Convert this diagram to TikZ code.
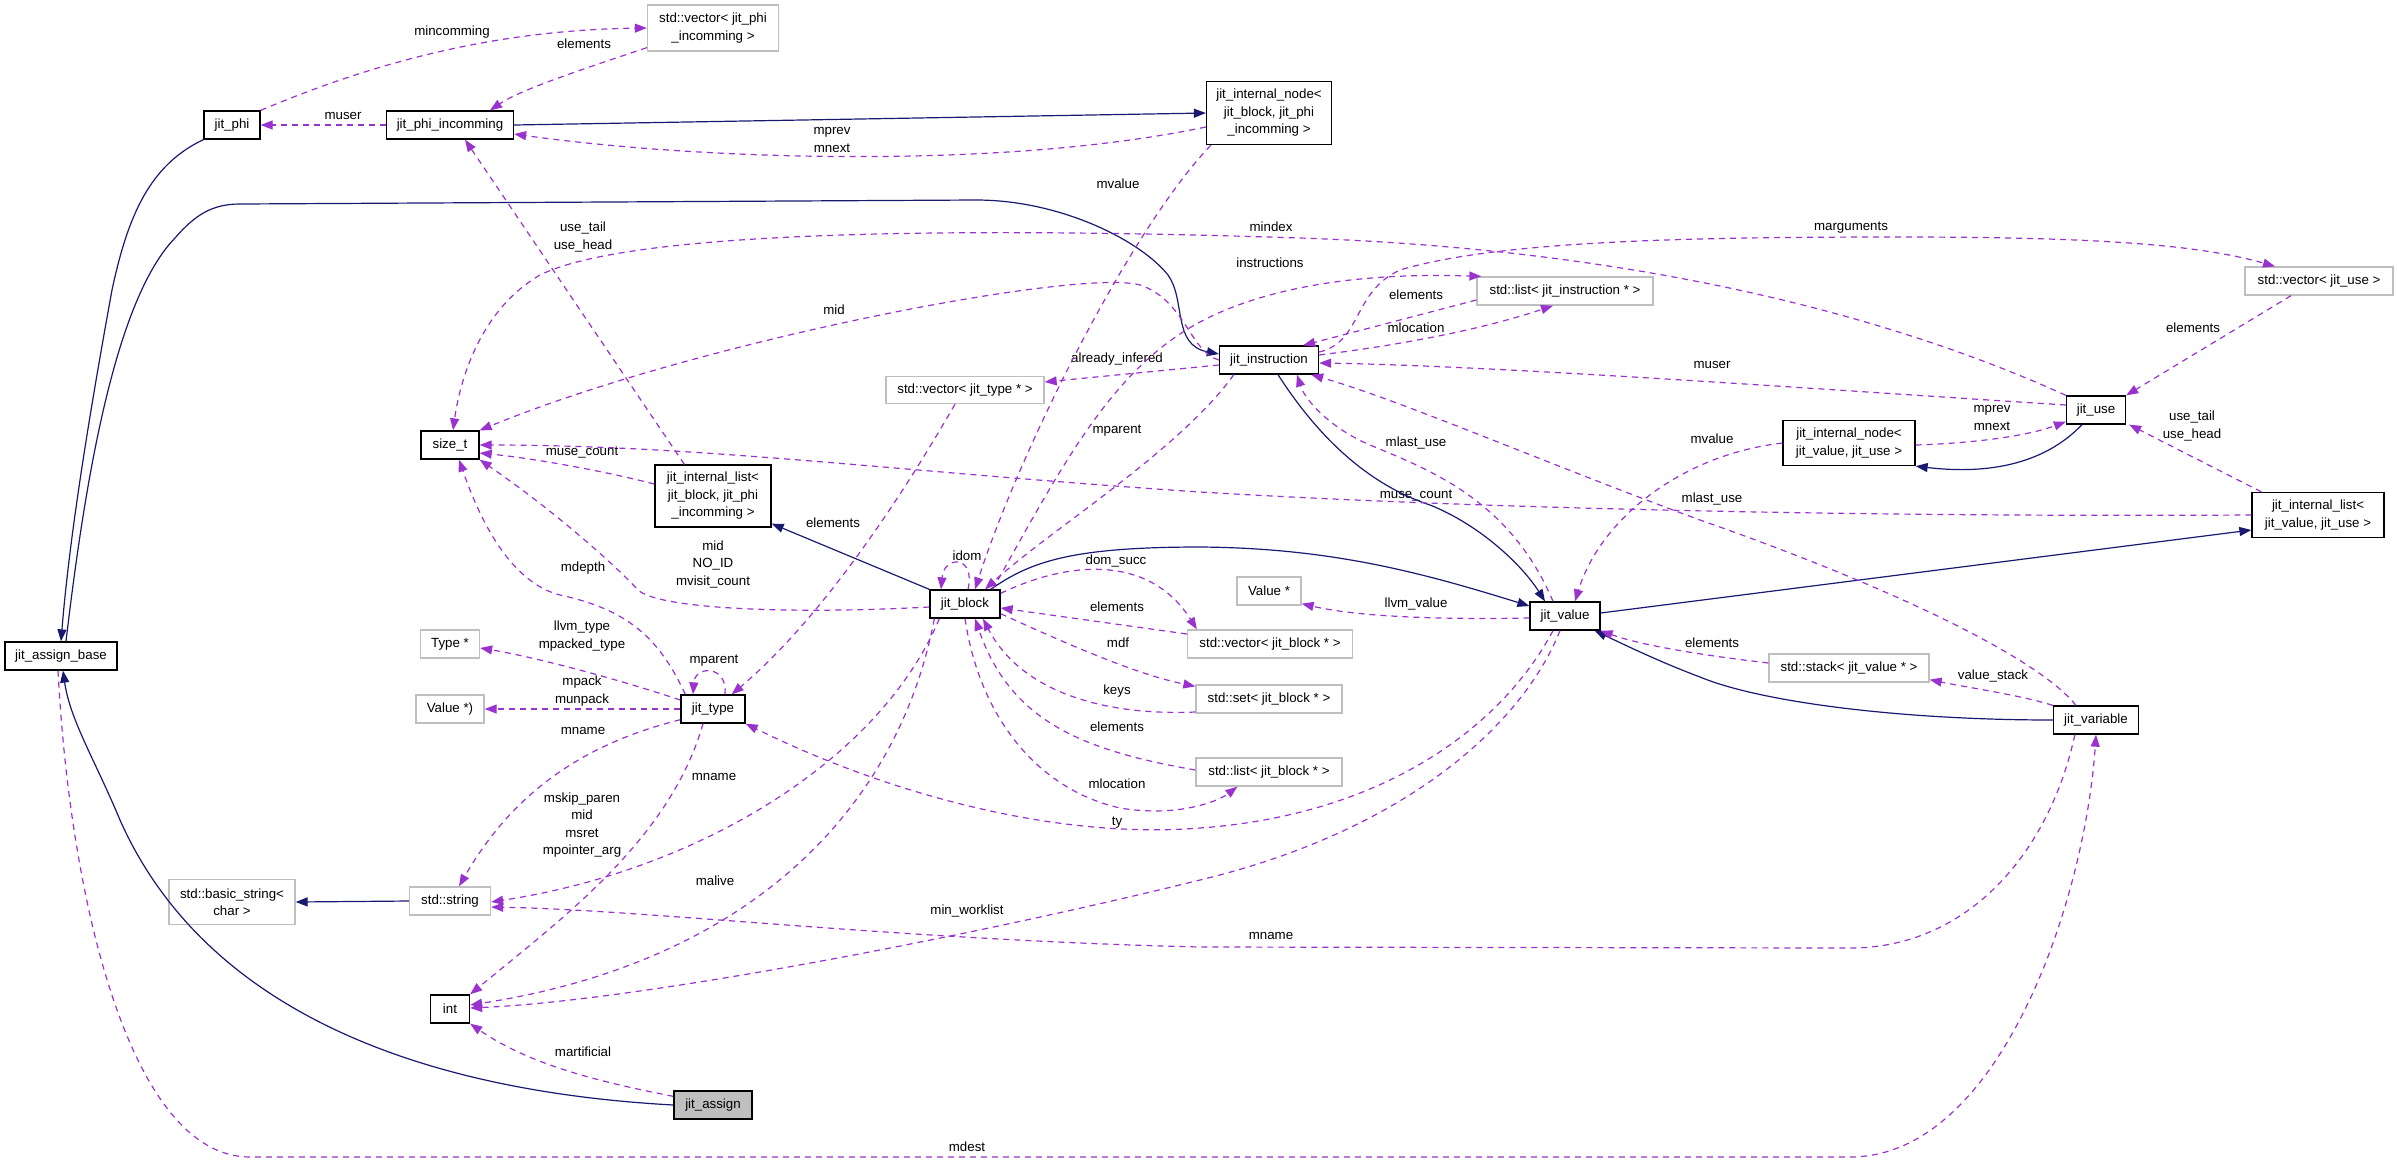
\documentclass[tikz,border=0pt]{standalone}
\usepackage{fontspec}
\setmainfont{Liberation Sans}
\usetikzlibrary{arrows.meta,calc}
\definecolor{inhblue}{HTML}{191970}
\definecolor{usepurple}{HTML}{9A32CD}
\definecolor{extgray}{HTML}{BFBFBF}
\definecolor{selgray}{HTML}{BFBFBF}
\newcommand{\lbf}{\fontsize{13.3pt}{17.5pt}\selectfont}
\begin{document}
\begin{tikzpicture}[x=1pt,y=-1pt,
  cls/.style={draw=black, line width=1.3pt, fill=white, font=\lbf, inner sep=0pt, minimum height=28pt, align=center},
  ext/.style={cls, draw=extgray},
  inh/.style={draw=inhblue, line width=1.2pt, -{Triangle[length=12pt,width=9pt]}},
  usedge/.style={draw=usepurple, line width=1.2pt, dash pattern=on 6pt off 5pt, -{Triangle[length=12pt,width=9pt]}},
  lbl/.style={font=\lbf, align=center, inner sep=0pt}]
\useasboundingbox (0,0) rectangle (2397,1163);

% nodes
\node[cls, minimum width=56pt] (phi) at (232,125) {jit\_phi};
\node[cls, minimum width=127pt] (phiinc) at (450,125) {jit\_phi\_incomming};
\node[ext, minimum width=131pt, minimum height=46pt] (vecphi) at (713,28) {std::vector< jit\_phi\\\_incomming >};
\node[cls, minimum width=125pt, minimum height=63pt] (nodebp) at (1269,113) {jit\_internal\_node<\\jit\_block, jit\_phi\\\_incomming >};
\node[cls, minimum width=99pt] (instr) at (1269,360) {jit\_instruction};
\node[ext, minimum width=176pt] (listinstr) at (1565,291) {std::list< jit\_instruction * >};
\node[ext, minimum width=148pt] (vecuse) at (2319,281) {std::vector< jit\_use >};
\node[cls, minimum width=58pt] (sizet) at (450,445) {size\_t};
\node[ext, minimum width=158pt, minimum height=27pt] (vectype) at (965,390) {std::vector< jit\_type * >};
\node[cls, minimum width=116pt, minimum height=62pt] (listbp) at (713,496) {jit\_internal\_list<\\jit\_block, jit\_phi\\\_incomming >};
\node[cls, minimum width=70pt] (block) at (965,604) {jit\_block};
\node[cls, minimum width=112pt] (base) at (61,656) {jit\_assign\_base};
\node[ext, minimum width=59pt] (typeptr) at (450,644) {Type *};
\node[ext, minimum width=68pt] (valuep) at (450,709) {Value *)};
\node[cls, minimum width=64pt] (jtype) at (713,709) {jit\_type};
\node[ext, minimum width=64pt] (valueptr) at (1269,591) {Value *};
\node[cls, minimum width=70pt] (value) at (1565,616) {jit\_value};
\node[ext, minimum width=165pt] (vecblock) at (1270,644) {std::vector< jit\_block * >};
\node[ext, minimum width=146pt] (setblock) at (1269,699) {std::set< jit\_block * >};
\node[ext, minimum width=146pt] (listblock) at (1269,772) {std::list< jit\_block * >};
\node[ext, minimum width=160pt] (stack) at (1849,668) {std::stack< jit\_value * >};
\node[cls, minimum width=132pt, minimum height=45pt] (nodevu) at (1849,443) {jit\_internal\_node<\\jit\_value, jit\_use >};
\node[cls, minimum width=59pt] (use) at (2096,410) {jit\_use};
\node[cls, minimum width=132pt, minimum height=45pt] (listvu) at (2318,515) {jit\_internal\_list<\\jit\_value, jit\_use >};
\node[cls, minimum width=85pt] (var) at (2096,720) {jit\_variable};
\node[ext, minimum width=126pt, minimum height=45pt] (bstr) at (232,902) {std::basic\_string<\\char >};
\node[ext, minimum width=81pt] (str) at (450,901) {std::string};
\node[cls, minimum width=39pt] (int) at (450,1009) {int};
\node[cls, minimum width=78pt, fill=selgray] (assign) at (713,1105) {jit\_assign};

% labels
\node[lbl] (l1) at (452,32) {mincomming};
\node[lbl] (l2) at (584,44) {elements};
\node[lbl] (l3) at (343,116) {muser};
\node[lbl] (l4) at (832,140) {mprev\\mnext};
\node[lbl] (l5) at (1118,184) {mvalue};
\node[lbl] (l6) at (583,237) {use\_tail\\use\_head};
\node[lbl] (l7) at (1271,227) {mindex};
\node[lbl] (l8) at (1270,263) {instructions};
\node[lbl] (l9) at (834,310) {mid};
\node[lbl] (l10) at (1117,359) {already\_infered};
\node[lbl] (l11) at (1416,295) {elements};
\node[lbl] (l12) at (1416,328) {mlocation};
\node[lbl] (l13) at (1851,228) {marguments};
\node[lbl] (l14) at (1712,365) {muser};
\node[lbl] (l15) at (2193,328) {elements};
\node[lbl] (l16) at (1992,418) {mprev\\mnext};
\node[lbl] (l17) at (2192,426) {use\_tail\\use\_head};
\node[lbl] (l18) at (582,453) {muse\_count};
\node[lbl] (l19) at (1416,496) {muse\_count};
\node[lbl] (l20) at (713,564) {mid\\NO\_ID\\mvisit\_count};
\node[lbl] (l21) at (583,568) {mdepth};
\node[lbl] (l22) at (833,523) {elements};
\node[lbl] (l23) at (967,556) {idom};
\node[lbl] (l24) at (1117,431) {mparent};
\node[lbl] (l25) at (1116,561) {dom\_succ};
\node[lbl] (l26) at (1117,607) {elements};
\node[lbl] (l27) at (1118,643) {mdf};
\node[lbl] (l28) at (1117,691) {keys};
\node[lbl] (l29) at (1117,727) {elements};
\node[lbl] (l30) at (1117,784) {mlocation};
\node[lbl] (l31) at (714,661) {mparent};
\node[lbl] (l32) at (582,636) {llvm\_type\\mpacked\_type};
\node[lbl] (l33) at (582,691) {mpack\\munpack};
\node[lbl] (l34) at (583,731) {mname};
\node[lbl] (l35) at (582,825) {mskip\_paren\\mid\\msret\\mpointer\_arg};
\node[lbl] (l36) at (714,777) {mname};
\node[lbl] (l37) at (1271,936) {mname};
\node[lbl] (l38) at (715,881) {malive};
\node[lbl] (l39) at (967,911) {min\_worklist};
\node[lbl] (l40) at (583,1052) {martificial};
\node[lbl] (l41) at (967,1147) {mdest};
\node[lbl] (l42) at (1712,499) {mlast\_use};
\node[lbl] (l43) at (1416,443) {mlast\_use};
\node[lbl] (l44) at (1712,439) {mvalue};
\node[lbl] (l45) at (1416,604) {llvm\_value};
\node[lbl] (l46) at (1712,643) {elements};
\node[lbl] (l47) at (1993,676) {value\_stack};
\node[lbl] (l48) at (1117,823) {ty};

% inheritance edges
\draw[inh] (phi.south west) .. controls (150,165) and (128,215) .. (112,290) .. controls (92,400) and (70,530) .. (base.north);
\draw[inh] ($(base.north)+(5,0)$) .. controls (85,480) and (115,300) .. (175,238) .. controls (195,215) and (212,204) .. (240,204) -- (976,200) .. controls (1060,200) and (1140,240) .. (1168,275) .. controls (1186,300) and (1172,345) .. ($(instr.west)+(0,-6)$);
\draw[inh] (phiinc.east) -- (nodebp.west);
\draw[inh] (block.north west) -- ($(listbp.south east)+(0,-4)$);
\draw[inh] ($(block.north east)+(-10,0)$) .. controls (1030,562) and (1070,547) .. (1200,547) .. controls (1330,548) and (1420,572) .. ($(value.west)+(0,-10)$);
\draw[inh] ($(instr.south)+(9,0)$) .. controls (1320,440) and (1370,485) .. (1430,505) .. controls (1480,525) and (1522,565) .. ($(value.north)+(-20,0)$);
\draw[inh] ($(value.east)+(0,-3)$) -- ($(listvu.west)+(0,15)$);
\draw[inh] (var.west) .. controls (1900,720) and (1760,702) .. (1700,677) .. controls (1660,662) and (1625,645) .. ($(value.south east)+(-6,0)$);
\draw[inh] ($(use.south)+(-14,0)$) .. controls (2050,458) and (2000,476) .. (nodevu.south east);
\draw[inh] (str.west) -- (bstr.east);
\draw[inh] (assign.west) .. controls (400,1090) and (200,1000) .. (120,820) .. controls (95,760) and (70,720) .. ($(base.south)+(2,0)$);

% usage edges
\draw[usedge] (phi.north east) .. controls (380,60) and (500,30) .. (vecphi.west);
\draw[usedge] ($(vecphi.south west)+(0,-4)$) .. controls (580,70) and (520,90) .. ($(phiinc.north)+(40,0)$);
\draw[usedge] (phiinc.west) -- (phi.east);
\draw[usedge] ($(nodebp.west)+(0,14)$) .. controls (1000,170) and (700,160) .. ($(phiinc.east)+(0,9)$);
\draw[usedge] ($(nodebp.south west)+(5,0)$) .. controls (1130,230) and (1020,450) .. ($(block.north)+(10,0)$);
\draw[usedge] ($(listbp.north west)+(30,0)$) -- ($(phiinc.south)+(15,0)$);
\draw[usedge] (use.north west) .. controls (1900,320) and (1650,250) .. (1300,238) .. controls (900,225) and (620,235) .. (540,275) .. controls (480,310) and (460,380) .. ($(sizet.north)+(3,0)$);
\draw[usedge] ($(block.north east)+(-8,0)$) .. controls (1060,470) and (1110,370) .. (1200,322) .. controls (1260,290) and (1350,272) .. ($(listinstr.north west)+(5,0)$);
\draw[usedge] ($(instr.west)+(0,5)$) -- ($(vectype.east)+(0,-8)$);
\draw[usedge] (instr.west) .. controls (1190,352) and (1185,300) .. (1140,285) .. controls (1080,268) and (700,340) .. (sizet.north east);
\draw[usedge] ($(listinstr.west)+(0,9)$) -- ($(instr.north east)+(-16,0)$);
\draw[usedge] ($(instr.east)+(0,-5)$) .. controls (1400,345) and (1480,330) .. ($(listinstr.south)+(-12,0)$);
\draw[usedge] ($(instr.east)+(0,-8)$) .. controls (1362,342) and (1352,292) .. (1400,270) .. controls (1500,240) and (1700,237) .. (1900,237) .. controls (2100,237) and (2200,245) .. ($(vecuse.north)+(-44,0)$);
\draw[usedge] ($(use.west)+(0,-5)$) .. controls (1800,388) and (1500,366) .. ($(instr.east)+(0,3)$);
\draw[usedge] ($(vecuse.south)+(-28,0)$) -- (use.north east);
\draw[usedge] ($(nodevu.east)+(0,2)$) .. controls (1980,443) and (2030,435) .. ($(use.south west)+(0,-3)$);
\draw[usedge] ($(listvu.north west)+(10,0)$) -- ($(use.south east)+(3,0)$);
\draw[usedge] ($(listbp.west)+(0,-12)$) .. controls (600,470) and (530,458) .. ($(sizet.east)+(0,8)$);
\draw[usedge] (listvu.west) .. controls (1900,517) and (1500,510) .. (1200,492) .. controls (900,472) and (700,445) .. (sizet.east);
\draw[usedge] ($(block.west)+(0,3)$) .. controls (800,614) and (660,610) .. (638,590) .. controls (620,570) and (560,515) .. (sizet.south east);
\draw[usedge] ($(jtype.north west)+(5,0)$) .. controls (660,640) and (630,610) .. (560,595) .. controls (510,582) and (480,520) .. ($(sizet.south)+(9,0)$);
\draw[usedge] ($(vectype.south)+(-10,0)$) .. controls (900,500) and (820,620) .. ($(jtype.north east)+(-14,0)$);
\draw[usedge] ($(block.north)+(3,0)$) .. controls (976,555) and (944,555) .. ($(block.north)+(-24,0)$);
\draw[usedge] ($(instr.south west)+(15,0)$) .. controls (1180,450) and (1050,530) .. ($(block.north)+(20,0)$);
\draw[usedge] ($(block.north east)+(0,4)$) .. controls (1070,560) and (1150,555) .. ($(vecblock.north west)+(10,0)$);
\draw[usedge] ($(vecblock.west)+(0,-10)$) -- ($(block.east)+(0,4)$);
\draw[usedge] ($(block.south east)+(0,-5)$) .. controls (1080,650) and (1140,675) .. ($(setblock.north west)+(0,2)$);
\draw[usedge] ($(setblock.west)+(0,13)$) .. controls (1100,716) and (1020,690) .. ($(block.south)+(18,0)$);
\draw[usedge] ($(listblock.west)+(0,-2)$) .. controls (1080,750) and (1010,720) .. ($(block.south)+(10,0)$);
\draw[usedge] (block.south) .. controls (980,720) and (1040,790) .. (1120,808) .. controls (1180,818) and (1220,800) .. ($(listblock.south west)+(42,0)$);
\draw[usedge] ($(jtype.north)+(12,0)$) .. controls (728,665) and (695,665) .. ($(jtype.north)+(-20,0)$);
\draw[usedge] ($(jtype.west)+(0,-9)$) .. controls (620,680) and (540,658) .. ($(typeptr.east)+(0,4)$);
\draw[usedge] (jtype.west) -- (valuep.east);
\draw[usedge] ($(jtype.south west)+(0,-4)$) .. controls (600,740) and (520,780) .. ($(str.north)+(9,0)$);
\draw[usedge] ($(jtype.south)+(-10,0)$) .. controls (670,840) and (560,920) .. (int.north east);
\draw[usedge] ($(block.south west)+(10,0)$) .. controls (880,760) and (700,870) .. ($(str.east)+(0,1)$);
\draw[usedge] ($(var.south west)+(22,0)$) .. controls (2050,850) and (1970,948) .. (1850,948) -- (1200,947) .. controls (900,940) and (650,910) .. ($(str.east)+(0,6)$);
\draw[usedge] ($(block.south west)+(5,0)$) .. controls (900,800) and (760,960) .. ($(int.east)+(0,-4)$);
\draw[usedge] ($(value.south)+(-5,0)$) .. controls (1520,730) and (1400,830) .. (1208,878) .. controls (1000,930) and (650,1000) .. ($(int.east)+(0,-1)$);
\draw[usedge] ($(assign.north west)+(0,6)$) .. controls (600,1082) and (530,1065) .. (int.south east);
\draw[usedge] ($(base.south)+(-3,0)$) .. controls (70,900) and (130,1157) .. (250,1157) -- (1850,1157) .. controls (2000,1157) and (2085,900) .. (var.south);
\draw[usedge] ($(var.north)+(-20,0)$) .. controls (2040,660) and (1900,590) .. (1700,520) .. controls (1550,465) and (1400,400) .. ($(instr.south east)+(-8,0)$);
\draw[usedge] ($(value.north)+(-12,0)$) .. controls (1510,500) and (1430,470) .. (1370,445) .. controls (1330,428) and (1305,400) .. ($(instr.south)+(28,0)$);
\draw[usedge] (nodevu.west) .. controls (1680,455) and (1600,520) .. ($(value.north)+(10,0)$);
\draw[usedge] ($(value.west)+(0,2)$) .. controls (1420,620) and (1350,615) .. ($(valueptr.south east)+(0,-2)$);
\draw[usedge] ($(stack.west)+(0,-5)$) .. controls (1700,655) and (1640,645) .. (value.south east);
\draw[usedge] (var.north west) .. controls (2020,695) and (1970,688) .. ($(stack.south east)+(0,-3)$);
\draw[usedge] ($(value.south)+(-12,0)$) .. controls (1500,730) and (1380,815) .. (1200,828) .. controls (1050,840) and (880,790) .. (jtype.south east);
\end{tikzpicture}
\end{document}
